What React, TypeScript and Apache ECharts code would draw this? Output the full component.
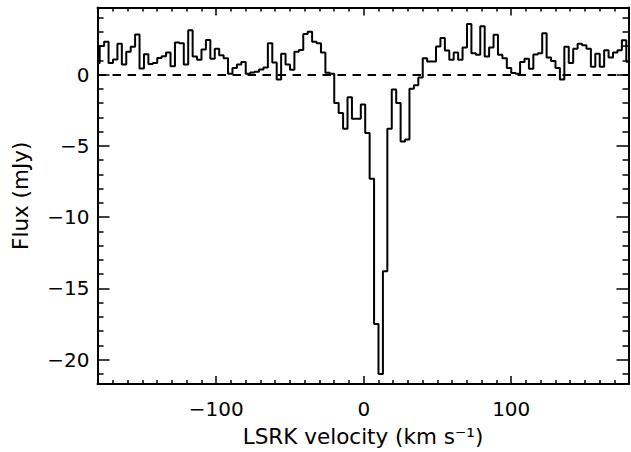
import { useEffect, useRef } from 'react';
import * as echarts from 'echarts';

// spectral channels: first channel centre and channel width (km/s)
const V_START = -180.5;
const V_STEP = 3;

// flux density per channel (mJy)
const flux = [
  0.8, 2.0, 2.3, 0.8, 1.05, 2.15, 0.7, 1.6, 1.95, 2.8,
  0.42, 1.42, 0.74, 0.8, 1.16, 1.28, 1.55, 0.58, 2.25, 2.2,
  0.7, 3.1, 1.27, 1.03, 1.75, 2.42, 1.1, 1.8, 1.35, 1.15,
  0.05, 0.45, 0.7, 0.88, 0.05, 0.15, 0.2, 0.35, 0.5, 2.2,
  0.85, -0.35, 1.45, 0.7, 0.33, 1.6, 1.72, 2.85, 3.0, 2.3,
  2.2, 1.55, 0.12, 0.05, -2.0, -2.7, -3.8, -1.6, -3.1, -3.1,
  -2.1, -4.1, -7.3, -17.5, -21.0, -13.8, -3.8, -1.05, -2.0, -4.7,
  -4.55, -1.0, -0.75, -0.2, 1.15, 0.92, 0.92, 1.97, 2.56, 1.69,
  1.03, 1.55, 1.03, 1.9, 3.54, 1.5, 1.38, 3.38, 1.27, 1.9,
  2.79, 1.38, 1.15, 0.45, 0.1, 0.05, 0.88, 1.1, 0.4, 1.4,
  1.5, 2.9, 1.2, 0.95, 0.45, -0.35, 1.95, 0.8, 1.8, 2.15,
  2.05, 1.8, 0.55, 1.45, 0.55, 1.7, 1.2, 1.55, 1.7, 2.4,
  0.9,
];

const X_RANGE = [-180.5, 179.5];
const Y_RANGE = [-21.7, 4.7];

const FONT = 'DejaVu Sans, Verdana, sans-serif';
const INK = '#000';

const minus = (v: number) => String(v).replace('-', '\u2212');

export default function App() {
  const ref = useRef<HTMLDivElement>(null);

  useEffect(() => {
    if (!ref.current) return;
    const chart = echarts.init(ref.current, undefined, { renderer: 'svg' });

    const line = { color: INK, width: 2 };
    const tick = { color: INK, width: 1.5 };
    const label = { fontFamily: FONT, fontSize: 20, color: INK };
    const title = { fontFamily: FONT, fontSize: 21.5, color: INK };

    const xBase = {
      type: 'value',
      min: X_RANGE[0],
      max: X_RANGE[1],
      axisLine: { show: true, onZero: false, lineStyle: line },
      axisTick: { show: true, inside: true, length: 8, lineStyle: tick },
      minorTick: { show: true, splitNumber: 10, length: 4, lineStyle: tick },
      splitLine: { show: false },
    };
    const yBase = {
      type: 'value',
      min: Y_RANGE[0],
      max: Y_RANGE[1],
      axisLine: { show: true, onZero: false, lineStyle: line },
      axisTick: { show: true, inside: true, length: 12, lineStyle: tick },
      minorTick: { show: true, splitNumber: 5, length: 6, lineStyle: tick },
      splitLine: { show: false },
    };

    chart.setOption({
      animation: false,
      backgroundColor: '#fff',
      grid: { left: 97.5, right: 2.5, top: 7.5, bottom: 67 },
      xAxis: [
        {
          ...xBase,
          position: 'bottom',
          axisLabel: {
            ...label, margin: 15, showMinLabel: false, showMaxLabel: false, formatter: minus,
          },
          name: 'LSRK velocity (km s\u207B\u00B9)',
          nameLocation: 'middle',
          nameGap: 41,
          nameTextStyle: title,
        },
        { ...xBase, position: 'top', axisLabel: { show: false } },
      ],
      yAxis: [
        {
          ...yBase,
          position: 'left',
          axisLabel: {
            ...label, margin: 8, showMinLabel: false, showMaxLabel: false, formatter: minus,
          },
          name: 'Flux (mJy)',
          nameLocation: 'middle',
          nameGap: 66,
          nameTextStyle: title,
        },
        { ...yBase, position: 'right', axisLabel: { show: false } },
      ],
      series: [
        {
          type: 'line',
          step: 'middle',
          data: flux.map((f, i) => [V_START + i * V_STEP, f]),
          symbol: 'none',
          lineStyle: { color: INK, width: 2 },
          markLine: {
            silent: true,
            symbol: 'none',
            label: { show: false },
            lineStyle: { color: INK, width: 2, type: [8.5, 6.5] },
            data: [{ yAxis: 0 }],
          },
        },
      ],
    });

    return () => chart.dispose();
  }, []);

  return (
    <div
      ref={ref}
      style={{ position: 'absolute', left: 0, top: 0, width: 631, height: 452 }}
    />
  );
}
